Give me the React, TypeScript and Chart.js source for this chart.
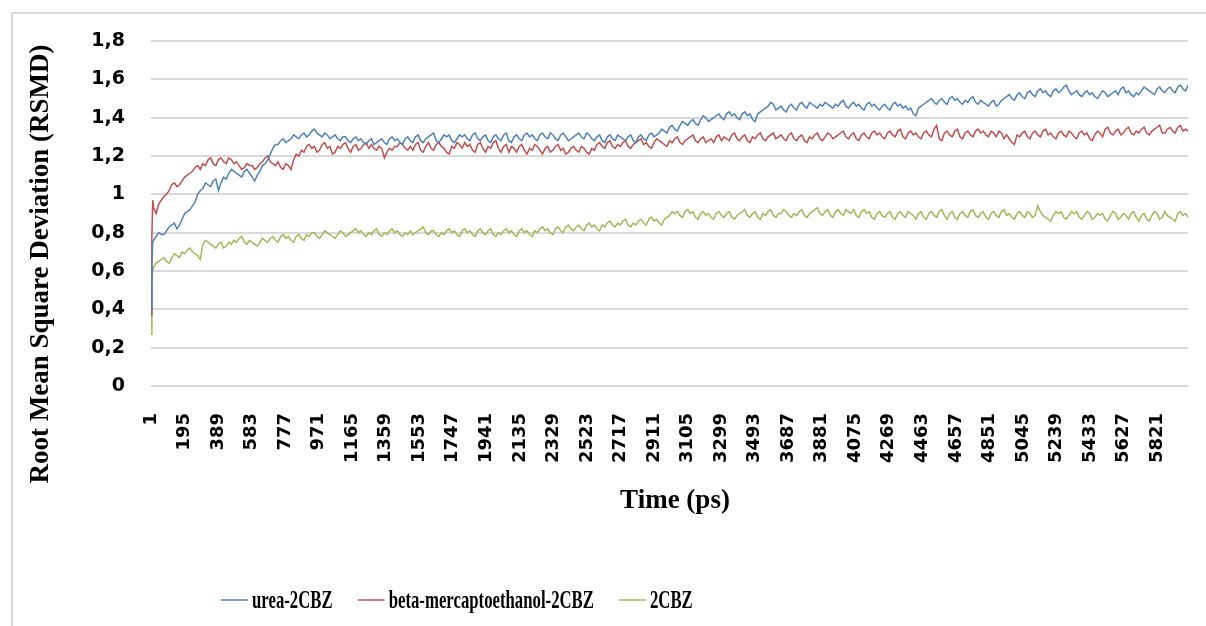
import { useEffect, useRef } from 'react';
import { Chart, registerables } from 'chart.js';

Chart.register(...registerables);

// Time (ps) of each sampled point
const TIME: number[] = [1, 6, 11, ...Array.from({ length: 400 }, (_, i) => 16 + 15 * i)];

const X_TICK_VALUES = [1, 195, 389, 583, 777, 971, 1165, 1359, 1553, 1747, 1941, 2135, 2329, 2523, 2717, 2911, 3105, 3299, 3493, 3687, 3881, 4075, 4269, 4463, 4657, 4851, 5045, 5239, 5433, 5627, 5821];
const X_TICK_LABELS = X_TICK_VALUES.map(String);
const Y_TICK_LABELS = ['0', '0,2', '0,4', '0,6', '0,8', '1', '1,2', '1,4', '1,6', '1,8'];

const SERIES_NAMES = ['urea-2CBZ', 'beta-mercaptoethanol-2CBZ', '2CBZ'];
const SERIES_COLORS = ['#4F81BD', '#C0504D', '#9BBB59'];
const X_TITLE = 'Time (ps)';
const Y_TITLE = 'Root Mean Square Deviation (RSMD)';

const UREA = [
  0.40, 0.64, 0.75,
  0.76, 0.78, 0.80, 0.79, 0.79, 0.81, 0.83, 0.84, 0.85, 0.82, 0.84, 0.87, 0.90, 0.91, 0.92, 0.94, 0.96, 1.00, 1.02, 1.03,
  1.06, 1.05, 1.04, 1.07, 1.08, 1.02, 1.06, 1.09, 1.08, 1.11, 1.13, 1.12, 1.11, 1.10, 1.09, 1.12, 1.13, 1.11, 1.09, 1.07,
  1.10, 1.12, 1.15, 1.16, 1.18, 1.21, 1.24, 1.26, 1.26, 1.28, 1.29, 1.27, 1.28, 1.29, 1.31, 1.30, 1.29, 1.31, 1.32, 1.30,
  1.31, 1.33, 1.34, 1.32, 1.31, 1.30, 1.32, 1.31, 1.29, 1.30, 1.31, 1.29, 1.28, 1.30, 1.30, 1.28, 1.27, 1.29, 1.30, 1.28,
  1.29, 1.27, 1.26, 1.28, 1.29, 1.26, 1.27, 1.28, 1.29, 1.27, 1.26, 1.29, 1.30, 1.28, 1.29, 1.27, 1.26, 1.29, 1.30, 1.28,
  1.27, 1.30, 1.31, 1.28, 1.27, 1.29, 1.30, 1.31, 1.32, 1.28, 1.27, 1.29, 1.31, 1.30, 1.31, 1.28, 1.27, 1.29, 1.31, 1.30,
  1.31, 1.29, 1.28, 1.31, 1.32, 1.29, 1.28, 1.30, 1.31, 1.28, 1.27, 1.30, 1.31, 1.29, 1.28, 1.31, 1.32, 1.28, 1.27, 1.30,
  1.31, 1.29, 1.28, 1.31, 1.32, 1.30, 1.31, 1.29, 1.28, 1.31, 1.32, 1.30, 1.29, 1.32, 1.31, 1.29, 1.28, 1.31, 1.32, 1.30,
  1.28, 1.29, 1.30, 1.31, 1.32, 1.30, 1.29, 1.32, 1.31, 1.29, 1.28, 1.30, 1.31, 1.28, 1.27, 1.30, 1.31, 1.29, 1.28, 1.31,
  1.30, 1.29, 1.28, 1.30, 1.31, 1.28, 1.27, 1.30, 1.31, 1.29, 1.28, 1.31, 1.32, 1.30, 1.31, 1.32, 1.34, 1.33, 1.32, 1.35,
  1.36, 1.34, 1.33, 1.36, 1.38, 1.37, 1.36, 1.38, 1.39, 1.37, 1.36, 1.39, 1.41, 1.40, 1.38, 1.39, 1.40, 1.41, 1.42, 1.40,
  1.39, 1.42, 1.43, 1.41, 1.42, 1.40, 1.39, 1.42, 1.43, 1.41, 1.42, 1.39, 1.38, 1.42, 1.43, 1.44, 1.45, 1.46, 1.48, 1.47,
  1.44, 1.45, 1.46, 1.44, 1.43, 1.46, 1.47, 1.45, 1.44, 1.47, 1.48, 1.46, 1.45, 1.48, 1.47, 1.46, 1.45, 1.47, 1.46, 1.48,
  1.47, 1.46, 1.45, 1.47, 1.46, 1.48, 1.49, 1.46, 1.45, 1.47, 1.48, 1.46, 1.47, 1.45, 1.44, 1.47, 1.48, 1.46, 1.47, 1.45,
  1.44, 1.46, 1.47, 1.45, 1.44, 1.47, 1.48, 1.46, 1.47, 1.45, 1.46, 1.44, 1.45, 1.42, 1.41, 1.45, 1.46, 1.47, 1.48, 1.49,
  1.50, 1.48, 1.47, 1.49, 1.50, 1.48, 1.47, 1.50, 1.51, 1.49, 1.50, 1.48, 1.47, 1.49, 1.48, 1.50, 1.51, 1.48, 1.47, 1.49,
  1.48, 1.47, 1.46, 1.48, 1.49, 1.46, 1.47, 1.49, 1.50, 1.51, 1.52, 1.50, 1.49, 1.52, 1.53, 1.51, 1.50, 1.53, 1.54, 1.52,
  1.51, 1.54, 1.55, 1.53, 1.54, 1.52, 1.51, 1.54, 1.55, 1.53, 1.54, 1.56, 1.57, 1.54, 1.52, 1.53, 1.54, 1.52, 1.51, 1.53,
  1.54, 1.52, 1.53, 1.51, 1.50, 1.52, 1.54, 1.53, 1.51, 1.52, 1.53, 1.54, 1.52, 1.55, 1.56, 1.53, 1.54, 1.52, 1.51, 1.53,
  1.52, 1.54, 1.56, 1.55, 1.54, 1.53, 1.52, 1.55, 1.56, 1.54, 1.53, 1.55, 1.56, 1.54, 1.53, 1.56, 1.57, 1.55, 1.54, 1.57,
];

const BETA = [
  0.37, 0.78, 0.97,
  0.93, 0.90, 0.95, 0.97, 0.99, 1.00, 1.02, 1.05, 1.06, 1.04, 1.05, 1.07, 1.09, 1.10, 1.11, 1.12, 1.14, 1.15, 1.13, 1.16,
  1.15, 1.18, 1.19, 1.16, 1.15, 1.18, 1.19, 1.17, 1.16, 1.19, 1.18, 1.16, 1.17, 1.15, 1.13, 1.14, 1.16, 1.15, 1.15, 1.13,
  1.14, 1.16, 1.17, 1.19, 1.20, 1.17, 1.16, 1.15, 1.17, 1.14, 1.13, 1.16, 1.15, 1.13, 1.18, 1.21, 1.20, 1.23, 1.22, 1.25,
  1.26, 1.24, 1.25, 1.22, 1.23, 1.26, 1.27, 1.24, 1.25, 1.21, 1.22, 1.25, 1.24, 1.26, 1.27, 1.24, 1.22, 1.25, 1.26, 1.23,
  1.24, 1.26, 1.27, 1.24, 1.26, 1.24, 1.23, 1.25, 1.24, 1.19, 1.22, 1.24, 1.23, 1.25, 1.25, 1.27, 1.26, 1.24, 1.23, 1.25,
  1.23, 1.26, 1.27, 1.23, 1.22, 1.25, 1.27, 1.24, 1.23, 1.26, 1.27, 1.25, 1.24, 1.22, 1.21, 1.25, 1.24, 1.27, 1.26, 1.24,
  1.27, 1.25, 1.26, 1.23, 1.22, 1.26, 1.27, 1.24, 1.22, 1.25, 1.24, 1.27, 1.28, 1.24, 1.22, 1.25, 1.26, 1.22, 1.25, 1.24,
  1.22, 1.25, 1.26, 1.23, 1.21, 1.24, 1.23, 1.26, 1.25, 1.23, 1.21, 1.24, 1.25, 1.22, 1.23, 1.25, 1.26, 1.23, 1.24, 1.21,
  1.22, 1.24, 1.25, 1.23, 1.22, 1.25, 1.24, 1.22, 1.21, 1.24, 1.23, 1.26, 1.27, 1.25, 1.24, 1.27, 1.28, 1.25, 1.24, 1.26,
  1.25, 1.27, 1.28, 1.25, 1.24, 1.26, 1.27, 1.28, 1.29, 1.26, 1.27, 1.25, 1.24, 1.27, 1.29, 1.28, 1.27, 1.26, 1.25, 1.28,
  1.27, 1.29, 1.30, 1.27, 1.26, 1.28, 1.29, 1.30, 1.31, 1.28, 1.27, 1.29, 1.30, 1.27, 1.28, 1.29, 1.27, 1.30, 1.31, 1.28,
  1.30, 1.29, 1.28, 1.31, 1.32, 1.29, 1.28, 1.30, 1.31, 1.28, 1.27, 1.30, 1.29, 1.31, 1.32, 1.29, 1.28, 1.30, 1.31, 1.32,
  1.29, 1.30, 1.31, 1.29, 1.28, 1.31, 1.32, 1.29, 1.28, 1.30, 1.31, 1.28, 1.27, 1.30, 1.29, 1.31, 1.32, 1.29, 1.28, 1.30,
  1.32, 1.31, 1.29, 1.30, 1.31, 1.32, 1.33, 1.30, 1.29, 1.31, 1.32, 1.29, 1.28, 1.31, 1.32, 1.30, 1.29, 1.32, 1.33, 1.31,
  1.32, 1.30, 1.29, 1.32, 1.33, 1.31, 1.30, 1.33, 1.34, 1.30, 1.29, 1.32, 1.33, 1.31, 1.32, 1.30, 1.29, 1.32, 1.33, 1.31,
  1.30, 1.34, 1.36, 1.29, 1.28, 1.32, 1.33, 1.31, 1.30, 1.33, 1.34, 1.30, 1.29, 1.32, 1.33, 1.31, 1.30, 1.33, 1.34, 1.32,
  1.33, 1.31, 1.30, 1.33, 1.32, 1.30, 1.33, 1.32, 1.29, 1.31, 1.29, 1.27, 1.26, 1.31, 1.30, 1.32, 1.33, 1.30, 1.29, 1.32,
  1.33, 1.31, 1.30, 1.33, 1.34, 1.31, 1.32, 1.30, 1.29, 1.32, 1.33, 1.31, 1.30, 1.33, 1.32, 1.30, 1.29, 1.32, 1.33, 1.31,
  1.32, 1.29, 1.28, 1.31, 1.33, 1.32, 1.30, 1.34, 1.35, 1.32, 1.31, 1.33, 1.34, 1.31, 1.32, 1.34, 1.35, 1.32, 1.31, 1.33,
  1.32, 1.34, 1.35, 1.32, 1.31, 1.33, 1.34, 1.35, 1.36, 1.32, 1.32, 1.34, 1.35, 1.33, 1.32, 1.35, 1.36, 1.33, 1.34, 1.33,
];

const CBZ = [
  0.27, 0.55, 0.60,
  0.62, 0.64, 0.65, 0.66, 0.67, 0.65, 0.64, 0.67, 0.69, 0.68, 0.67, 0.70, 0.69, 0.71, 0.72, 0.70, 0.69, 0.68, 0.66, 0.74,
  0.76, 0.75, 0.74, 0.73, 0.72, 0.74, 0.75, 0.72, 0.73, 0.75, 0.74, 0.76, 0.75, 0.77, 0.78, 0.75, 0.74, 0.76, 0.75, 0.74,
  0.73, 0.75, 0.77, 0.76, 0.75, 0.77, 0.78, 0.76, 0.75, 0.78, 0.79, 0.77, 0.78, 0.76, 0.75, 0.78, 0.79, 0.77, 0.76, 0.79,
  0.78, 0.80, 0.80, 0.78, 0.77, 0.79, 0.81, 0.80, 0.79, 0.78, 0.77, 0.79, 0.81, 0.80, 0.78, 0.79, 0.80, 0.81, 0.82, 0.80,
  0.81, 0.79, 0.78, 0.80, 0.79, 0.81, 0.82, 0.79, 0.78, 0.80, 0.79, 0.81, 0.82, 0.80, 0.81, 0.79, 0.78, 0.80, 0.79, 0.81,
  0.79, 0.80, 0.81, 0.82, 0.83, 0.80, 0.79, 0.81, 0.81, 0.79, 0.78, 0.80, 0.79, 0.81, 0.82, 0.80, 0.81, 0.79, 0.78, 0.81,
  0.82, 0.80, 0.81, 0.79, 0.78, 0.81, 0.82, 0.80, 0.79, 0.81, 0.82, 0.79, 0.78, 0.80, 0.79, 0.81, 0.82, 0.80, 0.81, 0.79,
  0.78, 0.81, 0.82, 0.80, 0.81, 0.79, 0.78, 0.81, 0.80, 0.82, 0.83, 0.81, 0.82, 0.80, 0.79, 0.82, 0.83, 0.81, 0.80, 0.83,
  0.84, 0.82, 0.81, 0.83, 0.84, 0.82, 0.81, 0.84, 0.85, 0.83, 0.84, 0.82, 0.81, 0.84, 0.83, 0.85, 0.86, 0.84, 0.83, 0.85,
  0.84, 0.86, 0.87, 0.84, 0.83, 0.85, 0.84, 0.86, 0.87, 0.85, 0.84, 0.87, 0.88, 0.86, 0.87, 0.85, 0.84, 0.87, 0.88, 0.89,
  0.91, 0.90, 0.91, 0.89, 0.88, 0.91, 0.92, 0.90, 0.91, 0.88, 0.87, 0.90, 0.91, 0.89, 0.90, 0.88, 0.87, 0.90, 0.91, 0.89,
  0.88, 0.90, 0.91, 0.88, 0.87, 0.89, 0.90, 0.91, 0.92, 0.89, 0.88, 0.90, 0.91, 0.88, 0.87, 0.90, 0.89, 0.91, 0.92, 0.89,
  0.88, 0.90, 0.90, 0.92, 0.91, 0.89, 0.88, 0.90, 0.89, 0.91, 0.92, 0.89, 0.88, 0.90, 0.91, 0.92, 0.93, 0.90, 0.89, 0.91,
  0.92, 0.89, 0.88, 0.91, 0.92, 0.90, 0.89, 0.92, 0.91, 0.90, 0.92, 0.89, 0.88, 0.91, 0.92, 0.90, 0.91, 0.88, 0.87, 0.90,
  0.91, 0.89, 0.88, 0.90, 0.91, 0.88, 0.87, 0.90, 0.91, 0.89, 0.88, 0.91, 0.90, 0.89, 0.87, 0.90, 0.91, 0.88, 0.87, 0.90,
  0.91, 0.89, 0.88, 0.91, 0.92, 0.89, 0.87, 0.90, 0.91, 0.88, 0.87, 0.90, 0.91, 0.89, 0.88, 0.91, 0.92, 0.89, 0.88, 0.90,
  0.91, 0.88, 0.87, 0.90, 0.91, 0.89, 0.88, 0.91, 0.92, 0.89, 0.90, 0.88, 0.87, 0.90, 0.91, 0.89, 0.88, 0.91, 0.90, 0.88,
  0.89, 0.94, 0.91, 0.89, 0.88, 0.87, 0.86, 0.89, 0.91, 0.90, 0.91, 0.88, 0.87, 0.89, 0.91, 0.90, 0.91, 0.88, 0.87, 0.89,
  0.91, 0.90, 0.87, 0.88, 0.90, 0.89, 0.90, 0.87, 0.86, 0.89, 0.91, 0.90, 0.87, 0.88, 0.90, 0.89, 0.87, 0.90, 0.91, 0.88,
  0.86, 0.89, 0.90, 0.87, 0.86, 0.89, 0.91, 0.90, 0.87, 0.88, 0.91, 0.89, 0.88, 0.87, 0.86, 0.90, 0.91, 0.89, 0.90, 0.88,
];

const SERIES_VALUES = [UREA, BETA, CBZ];

const decorPlugin = {
  id: 'decor',
  afterDraw(chart: any) {
    const ctx: CanvasRenderingContext2D = chart.ctx;
    ctx.save();
    // outer chart border (only top and left edges are inside the picture)
    ctx.strokeStyle = '#d9d9d9';
    ctx.lineWidth = 2;
    ctx.beginPath();
    ctx.moveTo(12, 626);
    ctx.lineTo(12, 13);
    ctx.lineTo(1206, 13);
    ctx.stroke();

    ctx.fillStyle = '#000';
    ctx.font = 'bold 27px "Liberation Serif", "Times New Roman", serif';
    ctx.textAlign = 'center';
    ctx.textBaseline = 'middle';
    ctx.save();
    ctx.translate(41, 264);
    ctx.rotate(-Math.PI / 2);
    ctx.fillText(Y_TITLE, 0, 0);
    ctx.restore();
    ctx.fillText(X_TITLE, 675, 501);

    // legend (condensed serif text)
    const sx = 0.67;
    let x = 221;
    ctx.font = 'bold 25px "Liberation Serif", "Times New Roman", serif';
    ctx.textAlign = 'left';
    ctx.textBaseline = 'alphabetic';
    chart.data.datasets.forEach((ds: any) => {
      ctx.strokeStyle = ds.borderColor;
      ctx.lineWidth = 1.5;
      ctx.beginPath();
      ctx.moveTo(x, 600);
      ctx.lineTo(x + 27, 600);
      ctx.stroke();
      x += 31;
      const w = ctx.measureText(ds.label).width * sx;
      ctx.save();
      ctx.translate(x, 608);
      ctx.scale(sx, 1);
      ctx.fillText(ds.label, 0, 0);
      ctx.restore();
      x += w + 25;
    });
    ctx.restore();
  },
};

export default function App() {
  const ref = useRef<HTMLCanvasElement | null>(null);

  useEffect(() => {
    if (!ref.current) return;
    const chart = new Chart(ref.current, {
      type: 'line',
      data: {
        datasets: SERIES_NAMES.map((name, s) => ({
          label: name,
          data: TIME.map((t, i) => ({ x: t, y: SERIES_VALUES[s][i] })).filter((p) => p.y !== undefined),
          borderColor: SERIES_COLORS[s],
          backgroundColor: SERIES_COLORS[s],
          borderWidth: 1.5,
          pointRadius: 0,
          tension: 0,
          fill: false,
        })),
      },
      options: {
        animation: false,
        responsive: false,
        devicePixelRatio: 1,
        layout: { padding: { left: 0, right: 12, top: 41, bottom: 0 } },
        plugins: {
          legend: { display: false },
          tooltip: { enabled: false },
          title: { display: false },
        },
        scales: {
          x: {
            type: 'linear',
            min: 1,
            max: 6001,
            grid: { display: false, drawTicks: false },
            border: { display: false },
            afterBuildTicks: (scale: any) => {
              scale.ticks = X_TICK_VALUES.map((v) => ({ value: v }));
            },
            afterFit: (scale: any) => {
              scale.height = 240;
            },
            ticks: {
              autoSkip: false,
              minRotation: 90,
              maxRotation: 90,
              padding: 27,
              color: '#000',
              font: { family: '"DejaVu Sans"', weight: 'bold', size: 18 },
              callback: (v: any) => {
                const i = X_TICK_VALUES.indexOf(Number(v));
                return i >= 0 ? X_TICK_LABELS[i] : '';
              },
            },
          },
          y: {
            min: 0,
            max: 1.8,
            grid: { color: '#d9d9d9', lineWidth: 2, drawTicks: false },
            border: { display: false },
            afterFit: (scale: any) => {
              scale.width = 151;
            },
            ticks: {
              stepSize: 0.2,
              padding: 26,
              color: '#000',
              font: { family: '"DejaVu Sans"', weight: 'bold', size: 19 },
              callback: (_v: any, i: number) => Y_TICK_LABELS[i],
            },
          },
        },
      },
      plugins: [decorPlugin],
    });
    return () => chart.destroy();
  }, []);

  return (
    <div style={{ position: 'absolute', left: 0, top: 0, width: 1206, height: 626, background: '#fff' }}>
      <canvas ref={ref} width={1206} height={626} style={{ width: 1206, height: 626, display: 'block' }} />
    </div>
  );
}
